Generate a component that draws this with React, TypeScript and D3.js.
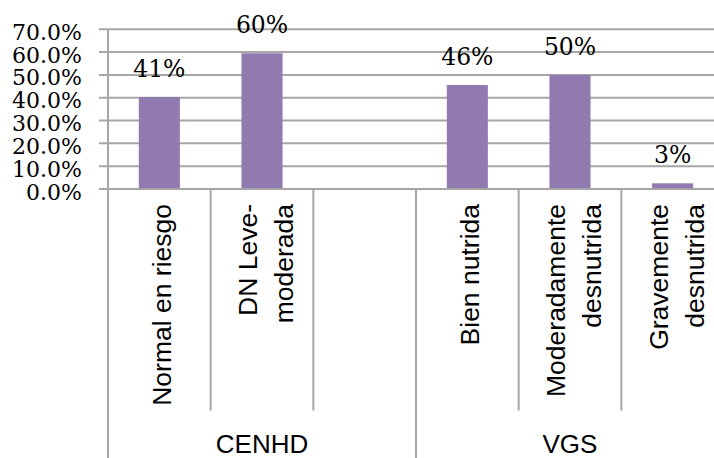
import React from "react";
import * as d3 from "d3";

// categories, each label split into its lines ("" = empty slot)
const categories = [
  ["Normal en riesgo"],
  ["DN Leve-", "moderada"],
  [""],
  ["Bien nutrida"],
  ["Moderadamente", "desnutrida"],
  ["Gravemente", "desnutrida"],
];
const values = [0.403, 0.595, null, 0.456, 0.5, 0.025];
const valueLabels = ["41%", "60%", "", "46%", "50%", "3%"];
const groups = ["CENHD", "VGS"];
const groupSizes = [3, 3];
const yTicks = [0, 0.1, 0.2, 0.3, 0.4, 0.5, 0.6, 0.7];

const W = 714;
const H = 458;
const left = 108;
const right = 724; // plot runs past the picture edge
const top = 29.3;
const bottom = 189;

const grid = "#a6a6a6";
const barColor = "#917ab0";
const serif = "DejaVu Serif, Liberation Serif, serif";
const sans = "Liberation Sans, Arial, sans-serif";

const App = () => {
  const x = d3
    .scaleBand<number>()
    .domain(categories.map((_, i) => i))
    .range([left, right])
    .paddingInner(0)
    .paddingOuter(0);
  const y = d3.scaleLinear().domain([0, 0.7]).range([bottom, top]);
  const fmt = d3.format(".1%");
  const bw = x.bandwidth() * 0.4;

  // group boundaries as slot indices
  const groupStarts = groupSizes.map((_, i) => d3.sum(groupSizes.slice(0, i)));

  return (
    <svg
      width={W}
      height={H}
      style={{ position: "absolute", left: 0, top: 0, background: "#fff" }}
    >
      {/* gridlines + tick marks */}
      {yTicks.map((t) => (
        <line
          key={t}
          x1={left - 9}
          x2={right}
          y1={y(t)}
          y2={y(t)}
          stroke={grid}
          strokeWidth={2}
        />
      ))}
      {/* y tick labels */}
      {yTicks.map((t) => (
        <text
          key={"l" + t}
          x={82}
          y={y(t) + 10.5}
          textAnchor="end"
          style={{ fontFamily: serif, fontSize: "22px" }}
          fill="#000"
        >
          {fmt(t)}
        </text>
      ))}
      {/* left axis */}
      <line x1={left} x2={left} y1={top} y2={H} stroke={grid} strokeWidth={2} />
      {/* category separators */}
      {categories.map((_, i) => {
        if (i === 0) return null;
        const gx = x(i) as number;
        const isGroup = groupStarts.includes(i);
        return (
          <line
            key={"s" + i}
            x1={gx}
            x2={gx}
            y1={bottom}
            y2={isGroup ? H : 410.5}
            stroke={grid}
            strokeWidth={2}
          />
        );
      })}
      {/* bars */}
      {values.map((v, i) =>
        v == null ? null : (
          <rect
            key={"b" + i}
            x={(x(i) as number) + (x.bandwidth() - bw) / 2}
            y={y(v)}
            width={bw}
            height={bottom - y(v) - 1}
            fill={barColor}
          />
        )
      )}
      {/* value labels */}
      {values.map((v, i) =>
        v == null ? null : (
          <text
            key={"v" + i}
            x={(x(i) as number) + x.bandwidth() / 2}
            y={y(v) - 20}
            textAnchor="middle"
            style={{ fontFamily: serif, fontSize: "23.5px" }}
          >
            {valueLabels[i]}
          </text>
        )
      )}
      {/* category labels, rotated */}
      {categories.map((lines, i) => {
        const cx = (x(i) as number) + x.bandwidth() / 2;
        const offs = lines.length === 1 ? [12] : [-5, 31];
        return lines.map((ln, j) => (
          <text
            key={"c" + i + "-" + j}
            transform={`translate(${cx + offs[j]},204) rotate(-90)`}
            textAnchor="end"
            style={{ fontFamily: sans, fontSize: "26.5px" }}
          >
            {ln}
          </text>
        ));
      })}
      {/* group labels */}
      {groups.map((g, gi) => {
        const s = x(groupStarts[gi]) as number;
        const e = s + x.bandwidth() * groupSizes[gi];
        return (
          <text
            key={g}
            x={(s + e) / 2}
            y={453}
            textAnchor="middle"
            style={{ fontFamily: sans, fontSize: "26px" }}
          >
            {g}
          </text>
        );
      })}
    </svg>
  );
};

export default App;
